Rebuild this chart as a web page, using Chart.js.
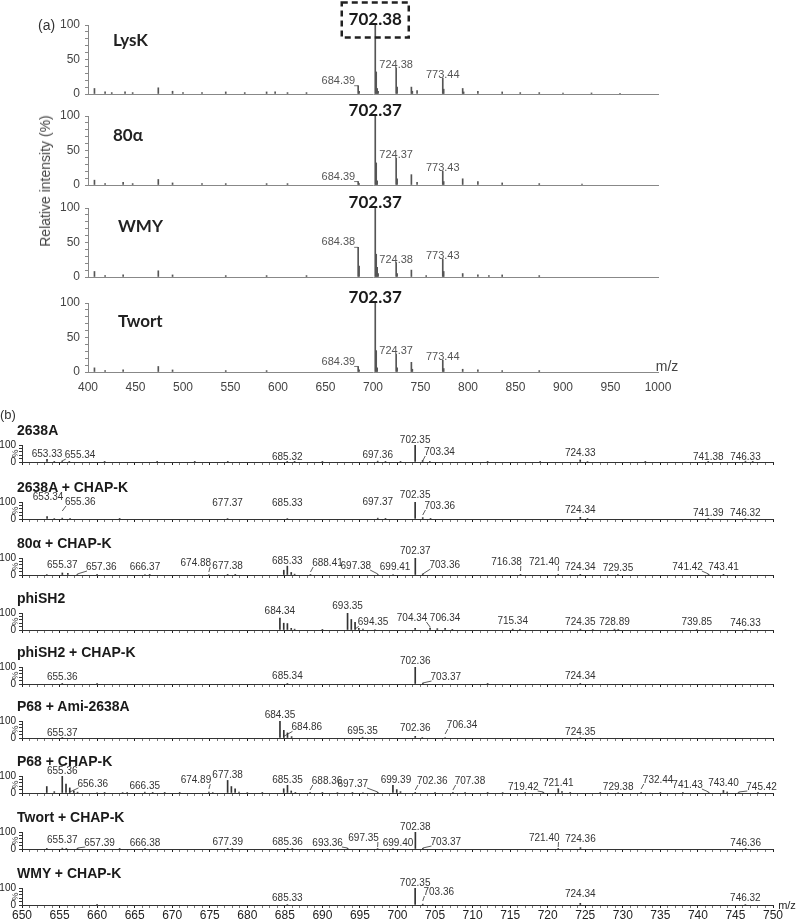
<!DOCTYPE html>
<html>
<head>
<meta charset="utf-8">
<script src="https://cdn.jsdelivr.net/npm/chart.js@4.4.0/dist/chart.umd.min.js"></script>
<style>
  body { margin: 0; background: #fff; width: 797px; height: 919px; overflow: hidden; position: relative;
         font-family: "Liberation Sans", Arial, sans-serif; }
  canvas { position: absolute; left: 0; }
  .t { position: absolute; white-space: nowrap; line-height: 1; }
</style>
</head>
<body>
<script>
// ---------- (a) spectra, m/z 400-1000 ----------
var lysK_mz  = [406.8, 418, 425, 439, 447, 474, 489, 500, 520, 545, 565, 588, 597, 610, 630, 684.39, 685.4, 702.38, 703.38, 704.4, 705.4, 724.38, 725.4, 740.4, 741.4, 746.4, 773.44, 774.4, 794.4, 795.4, 810.4, 836, 855, 875, 900, 930, 960];
var lysK_int = [8, 3, 2, 3, 2, 9, 4, 2, 2, 3, 2, 3, 3, 2, 2, 12, 4, 100, 32, 8, 4, 38, 10, 10, 4, 5, 23, 7, 8, 3, 4, 3, 2, 2, 1.5, 1.5, 1];
var alpha80_mz  = [406.8, 418, 437, 447, 474, 489, 520, 545, 588, 610, 684.39, 685.4, 702.37, 703.37, 704.4, 724.37, 725.4, 740.4, 746.4, 773.43, 774.4, 794.4, 810.4, 836, 875, 920];
var alpha80_int = [7, 2, 4, 2, 8, 3, 2, 2, 2, 2, 5, 2, 100, 32, 6, 39, 9, 15, 4, 20, 5, 9, 5, 3, 2, 1.5];
var wmy_mz  = [406.8, 418, 437, 474, 489, 545, 588, 630, 684.38, 685.38, 702.37, 703.37, 704.4, 705.4, 724.38, 725.4, 740.4, 756, 773.43, 774.4, 794.4, 810.4, 822, 836, 875];
var wmy_int = [8, 2, 3, 9, 3, 2, 2, 2, 43, 16, 100, 33, 14, 5, 21, 5, 10, 2, 26, 8, 5, 3, 2, 3, 2];
var twort_mz  = [406.8, 418, 437, 474, 489, 545, 588, 684.39, 685.4, 702.37, 703.37, 704.4, 724.37, 725.4, 740.4, 741.4, 773.44, 774.4, 794.4, 810.4, 836, 875];
var twort_int = [6, 2, 3, 8, 3, 2, 2, 8, 3, 100, 31, 6, 26, 6, 14, 4, 17, 5, 4, 3, 2, 2];

var a_names  = ['LysK', '80α', 'WMY', 'Twort'];
var a_main   = ['702.38', '702.37', '702.37', '702.37'];
var a_labels = [['684.39', '724.38', '773.44'], ['684.39', '724.37', '773.43'],
                ['684.38', '724.38', '773.43'], ['684.39', '724.37', '773.44']];
var a_xticks = [400, 450, 500, 550, 600, 650, 700, 750, 800, 850, 900, 950, 1000];

// ---------- (b) spectra, m/z 650-750 ----------
var s2638A_mz  = [653.33, 654.3, 655.34, 656.3, 661, 668, 673, 677.4, 685.32, 686.3, 690, 697.36, 698.4, 700.4, 702.35, 703.34, 704.3, 712, 719, 724.33, 725.3, 733, 741.38, 746.33, 747.3];
var s2638A_int = [15, 4, 5, 2, 1.5, 1, 1, 1.5, 4, 1.5, 1, 5, 2, 1.5, 100, 8, 2, 1, 1, 12, 3, 1, 4, 5, 1.5];
var s2638AK_mz  = [653.34, 654.3, 655.36, 656.4, 663, 677.37, 685.33, 697.37, 698.4, 702.35, 703.36, 704.4, 724.34, 725.3, 741.39, 746.32];
var s2638AK_int = [14, 3, 5, 2, 1, 3, 3, 5, 1.5, 100, 8, 2, 10, 2, 3, 3];
var s80aK_mz  = [653.3, 655.37, 656.1, 657.36, 660, 666.37, 667, 674.88, 677.38, 678.4, 684.86, 685.33, 685.85, 686.3, 688.41, 697.38, 699.41, 702.37, 703.36, 716.38, 721.4, 724.34, 729.35, 741.42, 743.41];
var s80aK_int = [3, 12, 10, 3, 1.5, 3, 2, 3, 4, 2, 28, 52, 15, 5, 3, 3, 3, 100, 6, 2, 2, 4, 2, 2, 2];
var phiSH2_mz  = [684.34, 684.85, 685.34, 685.85, 686.3, 690, 693.35, 693.85, 694.35, 694.85, 695.4, 697, 702.35, 704.34, 705.3, 706.34, 707.3, 715.34, 716.3, 724.35, 726, 728.89, 729.4, 739.85, 746.33];
var phiSH2_int = [70, 40, 38, 10, 5, 2, 100, 62, 45, 10, 5, 3, 10, 12, 8, 10, 4, 5, 2, 5, 3, 5, 4, 3, 3];
var phiSH2K_mz  = [655.36, 660, 685.34, 702.36, 703.37, 712, 724.34];
var phiSH2K_int = [2, 1, 4, 100, 5, 1, 4];
var p68Ami_mz  = [655.37, 684.35, 684.86, 685.35, 685.9, 695.35, 702.36, 703.3, 706.34, 724.35];
var p68Ami_int = [2, 100, 45, 30, 8, 5, 10, 3, 3, 3];
var p68K_mz  = [653.3, 654.3, 655.36, 655.86, 656.36, 656.9, 657.4, 660, 661, 663.4, 664, 666.35, 667.4, 669, 671, 674.89, 675.4, 677.38, 677.88, 678.38, 678.9, 680, 682, 684.85, 685.35, 685.85, 686.4, 688.36, 690, 692, 694, 695.4, 697.37, 699.39, 699.9, 700.4, 702.36, 705, 707.38, 709, 712, 714, 717, 719.42, 721.41, 721.9, 723, 727, 729.38, 732.44, 735, 738, 741.43, 743.4, 743.9, 745.42, 748];
var p68K_int = [38, 8, 98, 53, 30, 12, 5, 3, 2, 3, 2, 5, 4, 2, 2, 5, 3, 74, 38, 25, 6, 3, 2, 25, 45, 12, 4, 4, 2, 3, 2, 3, 4, 45, 20, 8, 4, 2, 4, 2, 2, 3, 2, 4, 25, 8, 2, 2, 3, 4, 2, 2, 3, 15, 6, 3, 2];
var twortK_mz  = [653.3, 655.37, 655.9, 657.39, 663, 666.38, 677.39, 678, 685.36, 686, 693.36, 697.35, 699.4, 702.38, 703.37, 721.4, 724.36, 746.36];
var twortK_int = [2, 5, 4, 2, 1, 2, 4, 2, 4, 2, 2, 3, 2, 100, 4, 2, 8, 2];
var wmyK_mz  = [660, 685.33, 702.35, 703.36, 724.34, 746.32];
var wmyK_int = [1, 3, 100, 5, 10, 3];

var b_names = ['2638A', '2638A + CHAP-K', '80α + CHAP-K', 'phiSH2', 'phiSH2 + CHAP-K',
               'P68 + Ami-2638A', 'P68 + CHAP-K', 'Twort + CHAP-K', 'WMY + CHAP-K'];
var b_labels = [
  ['653.33', '655.34', '685.32', '697.36', '702.35', '703.34', '724.33', '741.38', '746.33'],
  ['653.34', '655.36', '677.37', '685.33', '697.37', '702.35', '703.36', '724.34', '741.39', '746.32'],
  ['655.37', '657.36', '666.37', '674.88', '677.38', '685.33', '688.41', '697.38', '699.41', '702.37', '703.36', '716.38', '721.40', '724.34', '729.35', '741.42', '743.41'],
  ['684.34', '693.35', '694.35', '704.34', '706.34', '715.34', '724.35', '728.89', '739.85', '746.33'],
  ['655.36', '685.34', '702.36', '703.37', '724.34'],
  ['655.37', '684.35', '684.86', '695.35', '702.36', '706.34', '724.35'],
  ['655.36', '656.36', '666.35', '674.89', '677.38', '685.35', '688.36', '697.37', '699.39', '702.36', '707.38', '719.42', '721.41', '729.38', '732.44', '741.43', '743.40', '745.42'],
  ['655.37', '657.39', '666.38', '677.39', '685.36', '693.36', '697.35', '699.40', '702.38', '703.37', '721.40', '724.36', '746.36'],
  ['685.33', '702.35', '703.36', '724.34', '746.32']
];

// label placement tweaks in px (style only): [dx, dy]
var b_nudge = [
  {'655.34': [18, 0], '685.32': [0, 2], '703.34': [17, -3], '724.33': [0, -2], '741.38': [0, 2], '746.33': [0, 2]},
  {'653.34': [1, -14], '655.36': [18, -10], '677.37': [0, -9], '685.33': [0, -9], '697.37': [0, -10], '702.35': [0, -2], '703.36': [17, -6], '724.34': [0, -2], '741.39': [0, 1], '746.32': [0, 1]},
  {'655.37': [0, -3], '657.36': [24, -1], '666.37': [0, -1], '674.88': [-13, -5], '677.38': [0, -2], '688.41': [17, -5], '697.38': [-22, -2], '699.41': [2, -1], '702.37': [0, -2], '703.36': [22, -3], '716.38': [-14, -6], '721.40': [-14, -6], '724.34': [0, -1], '741.42': [-21, -1], '743.41': [0, -1]},
  {'684.34': [0, -2], '693.35': [0, -2], '694.35': [18, 5], '704.34': [-18, -5], '706.34': [0, -5], '715.34': [0, -2], '724.35': [0, -1], '728.89': [0, -1], '739.85': [0, -1]},
  {'685.34': [0, -1], '702.36': [0, -1], '703.37': [23, 0], '724.34': [0, -1]},
  {'655.37': [0, 2], '684.35': [0, -1], '684.86': [23, 2], '702.36': [0, -3], '706.34': [17, -6], '724.35': [0, 1]},
  {'656.36': [23, 1], '674.89': [-13, -6], '688.36': [17, -5], '697.37': [-25, -2], '699.39': [3, 0], '702.36': [17, -5], '707.38': [17, -5], '719.42': [-20, 1], '721.41': [0, -1], '729.38': [0, 1], '732.44': [17, -6], '741.43': [-21, -1], '743.40': [0, -2], '745.42': [23, 1]},
  {'655.37': [0, -2], '657.39': [22, 1], '666.38': [0, 1], '693.36': [-20, 1], '697.35': [-14, -4], '699.40': [5, 1], '703.37': [23, 0], '721.40': [-14, -4], '724.36': [0, -3], '746.36': [0, 1]},
  {'703.36': [16, -6], '724.34': [0, -4]}
];

var A = [[lysK_mz, lysK_int], [alpha80_mz, alpha80_int], [wmy_mz, wmy_int], [twort_mz, twort_int]];
var B = [[s2638A_mz, s2638A_int], [s2638AK_mz, s2638AK_int], [s80aK_mz, s80aK_int], [phiSH2_mz, phiSH2_int],
         [phiSH2K_mz, phiSH2K_int], [p68Ami_mz, p68Ami_int], [p68K_mz, p68K_int], [twortK_mz, twortK_int], [wmyK_mz, wmyK_int]];

var SANS = '"Liberation Sans", Arial, sans-serif';

function heightAt(mz, ints, v) {
  var best = 0;
  for (var i = 1; i < mz.length; i++) if (Math.abs(mz[i] - v) < Math.abs(mz[best] - v)) best = i;
  return ints[best];
}

// draws the peak annotations
var peakLabels = {
  id: 'peakLabels',
  afterDatasetsDraw: function(chart, args, opts) {
    var ctx = chart.ctx, xs = chart.scales.x, ys = chart.scales.y;
    var base = ys.getPixelForValue(0);
    ctx.save();
    ctx.textBaseline = 'middle';
    ctx.textAlign = 'center';
    (opts.items || []).forEach(function(it) {
      var px = xs.getPixelForValue(it.mz);
      var top = ys.getPixelForValue(it.h);
      ctx.font = it.font;
      ctx.fillStyle = it.color;
      ctx.strokeStyle = it.color;
      ctx.lineWidth = 0.8;
      var w = ctx.measureText(it.text).width;
      var cy = Math.min(base - opts.lift, top - it.gap) + it.dy;
      var cx = it.hook ? px - 3 - w / 2 : px + it.dx;
      ctx.fillText(it.text, cx, cy);
      ctx.beginPath();
      if (it.hook) {
        ctx.moveTo(cx + w / 2 - 1, cy + 5);
        ctx.lineTo(px, cy + 5);
        ctx.lineTo(px, top);
        ctx.stroke();
      } else if (Math.abs(it.dx) > 5) {
        var sx = it.dx > 0 ? cx - w / 2 + 1 : cx + w / 2 - 1;
        ctx.moveTo(sx, cy + 4);
        ctx.lineTo(px, Math.min(base - 1, cy + 9));
        ctx.stroke();
      }
      if (it.box) {
        ctx.setLineDash([6, 4]);
        ctx.lineWidth = 2.5;
        ctx.strokeStyle = '#222';
        ctx.strokeRect(cx - 33.5, cy - 17.5, 67, 35);
        ctx.setLineDash([]);
      }
    });
    if (opts.pct) {
      ctx.translate(15.5, (ys.top + ys.bottom) / 2);
      ctx.rotate(-Math.PI / 2);
      ctx.font = '9px ' + SANS;
      ctx.fillStyle = '#333';
      ctx.fillText('%', 0, 0);
    }
    ctx.restore();
  }
};

var PADB = 16; // spare room under each plot so tick labels never push the plot area up

function spectrum(mz, ints, o) {
  var cv = document.createElement('canvas');
  cv.width = 797;
  cv.height = o.padTop + o.plotH + o.axisH + PADB;
  cv.style.top = (o.plotTop - o.padTop) + 'px';
  document.body.appendChild(cv);
  var pts = mz.map(function(m, i) { return {x: m, y: ints[i]}; });
  return new Chart(cv, {
    type: 'bar',
    data: { datasets: [{ data: pts, backgroundColor: o.barColor, barThickness: 1, borderWidth: 0 }] },
    options: {
      responsive: false,
      animation: false,
      events: [],
      layout: { padding: { left: 0, right: 797 - o.plotRight, top: o.padTop, bottom: PADB } },
      scales: {
        x: {
          type: 'linear', min: o.xmin, max: o.xmax, offset: false,
          afterFit: function(s) { s.height = o.axisH; },
          border: { display: true, color: o.axisColor, width: 1 },
          grid: { display: true, offset: false, drawOnChartArea: false, drawTicks: o.xTicks, tickLength: 3,
                  color: o.xTickColor },
          ticks: { display: o.xLabels, stepSize: o.xStep, autoSkip: false, maxRotation: 0, padding: o.xPad,
                   color: o.labelColor, font: { size: 12, family: SANS },
                   callback: o.xCallback }
        },
        y: {
          min: 0, max: 100,
          afterFit: function(s) { s.width = o.plotLeft; },
          border: { display: true, color: o.axisColor, width: 1 },
          grid: { display: true, drawOnChartArea: false, drawTicks: true, tickLength: 3, color: o.axisColor },
          ticks: { stepSize: o.yStep, autoSkip: false, padding: o.yPad, color: o.labelColor,
                   font: { size: o.yFont, family: SANS },
                   callback: function(v) { return o.yShow.indexOf(v) >= 0 ? v : ''; } }
        }
      },
      plugins: {
        legend: { display: false },
        tooltip: { enabled: false },
        peakLabels: { items: o.items, lift: o.lift, pct: o.pct }
      }
    },
    plugins: [peakLabels]
  });
}

function txt(str, x, cy, size, css, center) {
  var d = document.createElement('div');
  d.className = 't';
  d.textContent = str;
  d.style.cssText += 'font-size:' + size + 'px;' + (css || '');
  d.style.top = (cy - 0.52 * size) + 'px';
  d.style.left = x + 'px';
  if (center) d.style.transform = 'translateX(-50%)';
  document.body.appendChild(d);
  return d;
}

// ---------- panel (a) ----------
var aTop = [25, 116, 208, 303], aH = 69;
var aTitleY = [40, 135, 226, 321], aTitleX = [113, 113, 118, 118];
A.forEach(function(s, r) {
  var items = [{ text: a_main[r], mz: parseFloat(a_main[r]), h: heightAt(s[0], s[1], parseFloat(a_main[r])),
                 dx: 0, dy: 0, gap: 5, font: 'bold 17px Lato, "Open Sans", sans-serif', color: '#1a1a1a', box: r === 0 }];
  a_labels[r].forEach(function(l) {
    var v = parseFloat(l);
    items.push({ text: l, mz: v, h: heightAt(s[0], s[1], v), dx: 0, dy: 0, gap: v < 700 ? 5 : 3,
                 hook: v < 700, font: '11px ' + SANS, color: '#555' });
  });
  var last = r === A.length - 1;
  spectrum(s[0], s[1], {
    plotTop: aTop[r], plotH: aH, padTop: 25, axisH: last ? 24 : 1,
    plotLeft: 88, plotRight: 658, xmin: 400, xmax: 1000, xStep: 50,
    xTicks: false, xLabels: last, xPad: 8, xTickColor: '#888',
    xCallback: function(v) { return a_xticks.indexOf(v) >= 0 ? v : ''; },
    yStep: 10, yShow: [0, 50, 100], yPad: 5, yFont: 12,
    axisColor: '#888', labelColor: '#444', barColor: '#555',
    items: items, lift: 0, pct: false
  });
  txt(a_names[r], aTitleX[r], aTitleY[r], 17, 'font-family:Lato,"Open Sans",sans-serif;font-weight:bold;color:#222;');
});
txt('(a)', 38, 25, 14, 'color:#333;');
txt('m/z', 667, 366, 14, 'color:#444;', true);
var yl = txt('Relative intensity (%)', 45, 181, 14, 'color:#444;');
yl.style.left = '45px';
yl.style.top = '181px';
yl.style.transform = 'translate(-50%, -50%) rotate(-90deg)';

// ---------- panel (b) ----------
var bBase = [462, 519, 575, 630, 684, 738, 793, 849, 905], bH = 17;
B.forEach(function(s, r) {
  var items = b_labels[r].map(function(l) {
    var v = parseFloat(l), n = b_nudge[r][l] || [0, 0];
    return { text: l, mz: v, h: heightAt(s[0], s[1], v), dx: n[0], dy: n[1], gap: 5,
             font: '10px ' + SANS, color: '#333' };
  });
  var last = r === B.length - 1;
  spectrum(s[0], s[1], {
    plotTop: bBase[r] - bH, plotH: bH, padTop: 26, axisH: last ? 20 : 4,
    plotLeft: 22, plotRight: 773, xmin: 650, xmax: 750, xStep: 1,
    xTicks: true, xLabels: last, xPad: 0,
    xTickColor: function(c) { return c.tick && c.tick.value % 5 === 0 ? '#222' : '#777'; },
    xCallback: function(v) { return v % 5 === 0 ? v : ''; },
    yStep: 20, yShow: [0, 100], yPad: 3, yFont: 10,
    axisColor: '#333', labelColor: '#222', barColor: '#333',
    items: items, lift: 7, pct: true
  });
  txt(b_names[r], 17, bBase[r] - 32, 14, 'font-weight:bold;color:#1a1a1a;');
});
txt('(b)', 0, 415, 13, 'color:#333;');
txt('m/z', 787, 906, 11, 'color:#222;', true);
</script>
</body>
</html>
